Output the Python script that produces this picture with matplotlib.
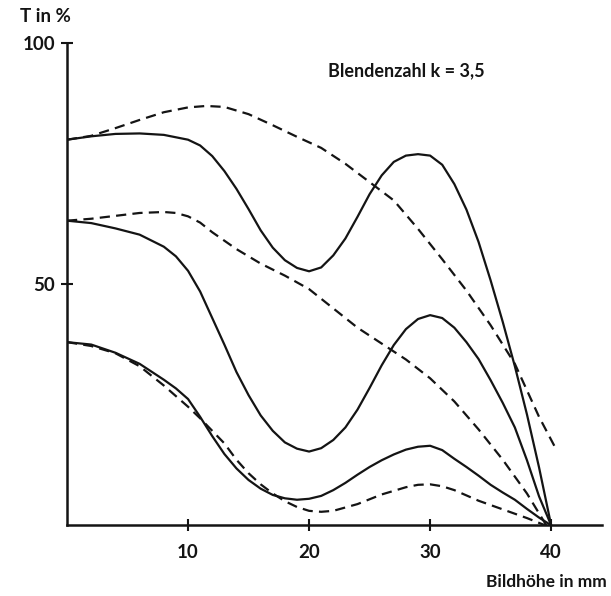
import matplotlib
matplotlib.use("Agg")
import matplotlib.pyplot as plt

# ---- data ----
s1_x = [0, 2, 4, 6, 8, 10, 11, 12, 13, 14, 15, 16, 17, 18, 19, 20, 21, 22, 23, 24, 25,
        26, 27, 28, 29, 30, 31, 32, 33, 34, 35, 36, 37, 38, 39, 40]
s1_y = [80, 80.7, 81.2, 81.3, 81, 80, 78.8, 76.6, 73.5, 69.8, 65.6, 61.2, 57.6, 55, 53.4,
        52.7, 53.5, 56, 59.5, 64, 68.7, 72.6, 75.4, 76.7, 77, 76.7, 74.8, 70.8, 65.5, 58.8,
        50.8, 42.2, 33, 23, 12, 0]

d1_x = [0, 2, 4, 6, 8, 10, 11.5, 13, 15, 17, 19, 21, 23, 25, 27, 29, 31, 33, 35, 37, 39, 40.3]
d1_y = [80, 80.8, 82.4, 84.1, 85.7, 86.7, 87, 86.8, 85.3, 83, 80.6, 78.3, 75, 71.2, 67.4,
        61.5, 55.2, 48.7, 41.5, 33.5, 22.5, 16.3]

s2_x = [0, 2, 4, 6, 8, 9, 10, 11, 12, 13, 14, 15, 16, 17, 18, 19, 20, 21, 22, 23, 24, 25,
        26, 27, 28, 29, 30, 31, 32, 33, 34, 35, 36, 37, 38, 39, 40]
s2_y = [63.2, 62.7, 61.6, 60.3, 57.8, 55.8, 52.8, 48.5, 43, 37.5, 31.8, 27, 22.8, 19.6, 17.2,
        15.9, 15.3, 16, 17.7, 20.3, 24, 28.5, 33.2, 37.4, 40.7, 42.8, 43.6, 43, 41, 38, 34.5,
        30.1, 25.4, 20.3, 13.5, 6, 0]

d2_x = [0, 2, 4, 6, 8, 9, 10, 11, 12, 14, 16, 18, 20, 22, 24, 26, 28, 30, 32, 34, 36, 38, 39.6]
d2_y = [63.2, 63.6, 64.2, 64.8, 65, 64.8, 64.1, 62.8, 60.8, 57.3, 54.3, 51.8, 49, 45, 41,
        37.7, 34.4, 30.5, 25.7, 19.9, 13.6, 6.6, 0]

s3_x = [0, 2, 4, 6, 8, 9, 10, 11, 12, 13, 14, 15, 16, 17, 18, 19, 20, 21, 22, 23, 24, 25,
        26, 27, 28, 29, 30, 31, 32, 33, 34, 35, 36, 37, 38, 39, 40]
s3_y = [38, 37.5, 35.8, 33.5, 30.2, 28.4, 26.2, 22.5, 18.5, 14.8, 11.8, 9.4, 7.6, 6.3, 5.6,
        5.3, 5.5, 6.1, 7.3, 8.8, 10.5, 12.1, 13.5, 14.7, 15.7, 16.3, 16.5, 15.6, 13.8, 12.1,
        10.3, 8.4, 6.8, 5.3, 3.4, 1.6, 0]

d3_x = [0, 2, 4, 6, 8, 10, 11, 12, 13, 14, 15, 16, 17, 18, 19, 20, 21, 22, 24, 26, 28, 29,
        30, 31, 32, 34, 36, 38, 39.5]
d3_y = [38, 37.2, 35.7, 33, 29, 24.6, 22.2, 19.6, 17, 13.6, 10.8, 8.5, 6.6, 5, 3.8, 3, 2.8,
        3, 4.4, 6.4, 7.9, 8.4, 8.5, 8.1, 7.3, 5.1, 3.3, 1.5, 0]

x_ticks = [10, 20, 30, 40]
y_ticks = [50, 100]
y_label = "T in %"
x_label = "Bildhöhe in mm"
note = "Blendenzahl k = 3,5"

# ---- drawing ----
plt.rcParams['font.family'] = ['Lato', 'DejaVu Sans']
fig = plt.figure(figsize=(6.11, 5.96), dpi=100)
ax = fig.add_axes([67 / 611, (596 - 525.3) / 596, 535 / 611, (525.3 - 43.3) / 596])

ink = '#141414'
solid_kw = dict(color=ink, lw=1.6, solid_capstyle='round', solid_joinstyle='round')
dash_kw = dict(color=ink, lw=1.6, ls=(0, (4.6, 2.8)))

for xs, ys in [(s1_x, s1_y), (s2_x, s2_y), (s3_x, s3_y)]:
    ax.plot(xs, ys, **solid_kw)
for xs, ys in [(d1_x, d1_y), (d2_x, d2_y), (d3_x, d3_y)]:
    ax.plot(xs, ys, **dash_kw)

ax.set_xlim(0, 44.2)
ax.set_ylim(0, 100)
for side in ['top', 'right']:
    ax.spines[side].set_visible(False)
for side in ['left', 'bottom']:
    ax.spines[side].set_linewidth(1.8)
    ax.spines[side].set_color(ink)

ax.set_xticks(x_ticks)
ax.set_xticklabels([str(t) for t in x_ticks])
ax.set_yticks(y_ticks)
ax.set_yticklabels([str(t) for t in y_ticks])
ax.tick_params(axis='both', direction='inout', length=9, width=1.5, color=ink,
               labelsize=13.5, labelcolor=ink)
ax.tick_params(axis='x', pad=9)
ax.tick_params(axis='y', pad=4)
for lab in ax.get_xticklabels() + ax.get_yticklabels():
    lab.set_fontweight('bold')

ax.text(21.6, 94.4, note, ha='left', va='center', fontsize=13, fontweight='bold', color=ink)
fig.text(20 / 611, 1 - 17 / 596, y_label, ha='left', va='center', fontsize=13.5,
         fontweight='bold', color=ink)
fig.text(607 / 611, 1 - 582 / 596, x_label, ha='right', va='center', fontsize=12.5,
         fontweight='bold', color=ink)

fig.savefig('out.png', dpi=100, facecolor='white')
